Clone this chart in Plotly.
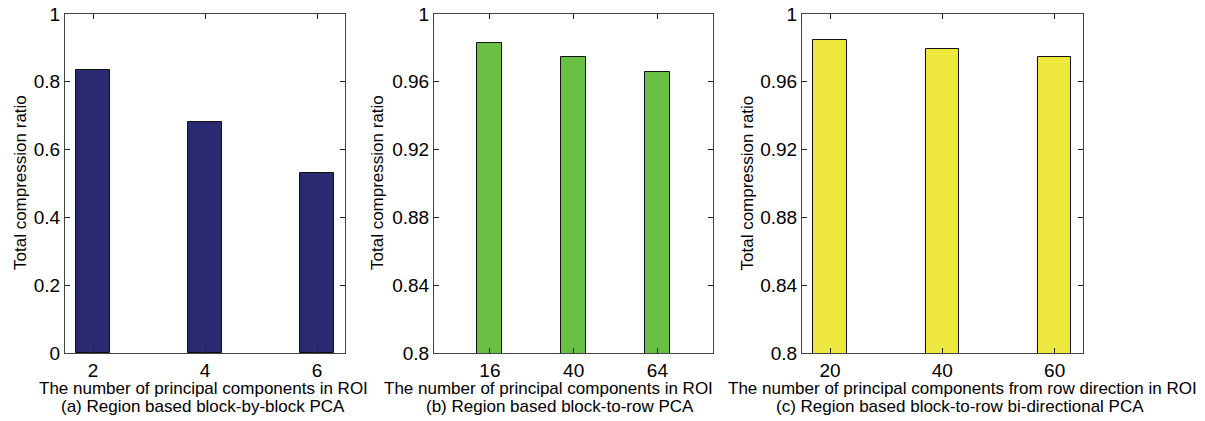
import plotly.graph_objects as go

# Data
cats_a = ["2", "4", "6"]
vals_a = [0.835, 0.682, 0.530]
cats_b = ["16", "40", "64"]
vals_b = [0.983, 0.9744, 0.9656]
cats_c = ["20", "40", "60"]
vals_c = [0.9847, 0.9795, 0.9748]

yticks_a = [0, 0.2, 0.4, 0.6, 0.8, 1]
yticklabels_a = ["0", "0.2", "0.4", "0.6", "0.8", "1"]
yticks_bc = [0.8, 0.84, 0.88, 0.92, 0.96, 1]
yticklabels_bc = ["0.8", "0.84", "0.88", "0.92", "0.96", "1"]

xtitles = ["The number of principal components in ROI",
           "The number of principal components in ROI",
           "The number of principal components from row direction in ROI"]
captions = ["(a) Region based block-by-block PCA",
            "(b) Region based block-to-row PCA",
            "(c) Region based block-to-row bi-directional PCA"]
ytitle = "Total compression ratio"

colors = ["#2a2a72", "#6abf45", "#ede83f"]

W, H = 1205, 421
FONT = "Arial, Liberation Sans, sans-serif"

fig = go.Figure()

panels = [
    (cats_a, vals_a, "x", "y", colors[0]),
    (cats_b, vals_b, "x2", "y2", colors[1]),
    (cats_c, vals_c, "x3", "y3", colors[2]),
]
for cats, vals, xa, ya, col in panels:
    fig.add_trace(go.Bar(
        x=cats, y=vals, xaxis=xa, yaxis=ya, width=0.3,
        marker=dict(color=col, line=dict(color="#111111", width=1)),
        showlegend=False, hoverinfo="x+y",
    ))

xdom = [(65, 345), (434, 713.3), (802, 1082.7)]
ydom = [1 - 353 / H, 1 - 14 / H]
xranges = [[-0.25, 2.25], [-0.667, 2.667], [-0.25, 2.25]]
yranges = [[0, 1], [0.8, 1], [0.8, 1]]
yt = [(yticks_a, yticklabels_a), (yticks_bc, yticklabels_bc), (yticks_bc, yticklabels_bc)]
cats_all = [cats_a, cats_b, cats_c]

axis_common = dict(
    showline=True, linecolor="#444444", linewidth=1, mirror="ticks",
    ticks="inside", ticklen=5, tickcolor="#222222", tickwidth=1,
    showgrid=False, zeroline=False, automargin=False,
    tickfont=dict(family=FONT, size=19, color="#000000"),
)

layout = {}
for i in range(3):
    sfx = "" if i == 0 else str(i + 1)
    layout["xaxis" + sfx] = dict(
        domain=[xdom[i][0] / W, xdom[i][1] / W],
        anchor="y" + sfx, type="category", range=xranges[i],
        tickvals=cats_all[i], ticktext=cats_all[i],
        **axis_common,
    )
    layout["yaxis" + sfx] = dict(
        domain=ydom, anchor="x" + sfx, range=yranges[i],
        tickvals=yt[i][0], ticktext=yt[i][1],
        **axis_common,
    )

annotations = []
ytitle_x = [20, 377, 746.5]
xtitle_cx = [203, 548, 962]
caption_cx = [203, 560, 960]
for i in range(3):
    annotations.append(dict(
        text=xtitles[i], x=xtitle_cx[i] / W, y=1 - 388 / H, xref="paper", yref="paper",
        showarrow=False, xanchor="center", yanchor="middle",
        font=dict(family=FONT, size=17, color="#000000"),
    ))
    annotations.append(dict(
        text=captions[i], x=caption_cx[i] / W, y=1 - 406 / H, xref="paper", yref="paper",
        showarrow=False, xanchor="center", yanchor="middle",
        font=dict(family=FONT, size=17, color="#000000"),
    ))
    annotations.append(dict(
        text=ytitle, x=ytitle_x[i] / W, y=1 - 183 / H, xref="paper", yref="paper",
        showarrow=False, xanchor="center", yanchor="middle", textangle=-90,
        font=dict(family=FONT, size=17, color="#000000"),
    ))

fig.update_layout(
    width=W, height=H,
    margin=dict(l=0, r=0, t=0, b=0, autoexpand=False),
    paper_bgcolor="white", plot_bgcolor="white",
    annotations=annotations,
    bargap=0,
    **layout,
)

fig.write_html(
    "out.html",
    config={"displayModeBar": False},
    post_script="document.body.style.margin='0';document.body.style.overflow='hidden';",
)
